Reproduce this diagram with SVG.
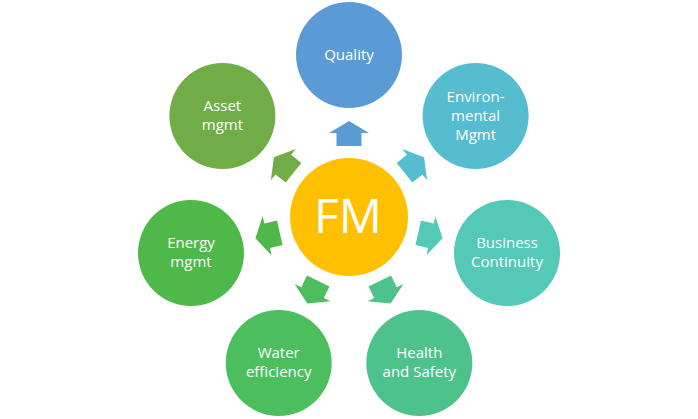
<svg xmlns="http://www.w3.org/2000/svg" width="698" height="419" viewBox="0 0 698 419">
<style>
.lbl{font-family:"Open Sans","Liberation Sans",sans-serif;font-size:15px;fill:#fff;text-anchor:middle}
.fm{font-family:"Open Sans","Liberation Sans",sans-serif;font-size:48px;fill:#fff;text-anchor:middle}
</style>
<defs>
<path id="arr" d="M71,-12.5 H84 V-20 L96,0 L84,20 V12.5 H71 Z"/>
</defs>
<rect width="698" height="419" fill="#fff"/>
<g id="connectors">
<use href="#arr" fill="#5B9BD5" transform="translate(349,217) rotate(-90)"/>
<use href="#arr" fill="#56BCCF" transform="translate(349,217) rotate(-38.57)"/>
<use href="#arr" fill="#55C9B8" transform="translate(349,217) rotate(12.86)"/>
<use href="#arr" fill="#4DC38B" transform="translate(349,217) rotate(64.29)"/>
<use href="#arr" fill="#4CBE5E" transform="translate(349,217) rotate(115.71)"/>
<use href="#arr" fill="#4EB848" transform="translate(349,217) rotate(167.14)"/>
<use href="#arr" fill="#70AD47" transform="translate(349,217) rotate(218.57)"/>
</g>
<g id="fm">
<circle cx="349" cy="217" r="59" fill="#FFC000"/>
<text class="fm" x="348" y="233">FM</text>
</g>
<g id="quality">
<circle cx="349" cy="55" r="53" fill="#5B9BD5"/>
<text class="lbl" x="349" y="60">Quality</text>
</g>
<g id="environmental">
<circle cx="475.6" cy="116" r="53" fill="#56BCCF"/>
<text class="lbl" x="475.6" y="102">Environ-</text>
<text class="lbl" x="475.6" y="121">mental</text>
<text class="lbl" x="475.6" y="140">Mgmt</text>
</g>
<g id="business">
<circle cx="507" cy="253" r="53" fill="#55C9B8"/>
<text class="lbl" x="507" y="248">Business</text>
<text class="lbl" x="507" y="267">Continuity</text>
</g>
<g id="health">
<circle cx="419.3" cy="363" r="53" fill="#4DC38B"/>
<text class="lbl" x="419.3" y="358">Health</text>
<text class="lbl" x="419.3" y="377">and Safety</text>
</g>
<g id="water">
<circle cx="278.7" cy="363" r="53" fill="#4CBE5E"/>
<text class="lbl" x="278.7" y="358">Water</text>
<text class="lbl" x="278.7" y="377">efficiency</text>
</g>
<g id="energy">
<circle cx="191" cy="253" r="53" fill="#4EB848"/>
<text class="lbl" x="191" y="248">Energy</text>
<text class="lbl" x="191" y="267">mgmt</text>
</g>
<g id="asset">
<circle cx="222.4" cy="116" r="53" fill="#70AD47"/>
<text class="lbl" x="222.4" y="111">Asset</text>
<text class="lbl" x="222.4" y="130">mgmt</text>
</g>
</svg>
